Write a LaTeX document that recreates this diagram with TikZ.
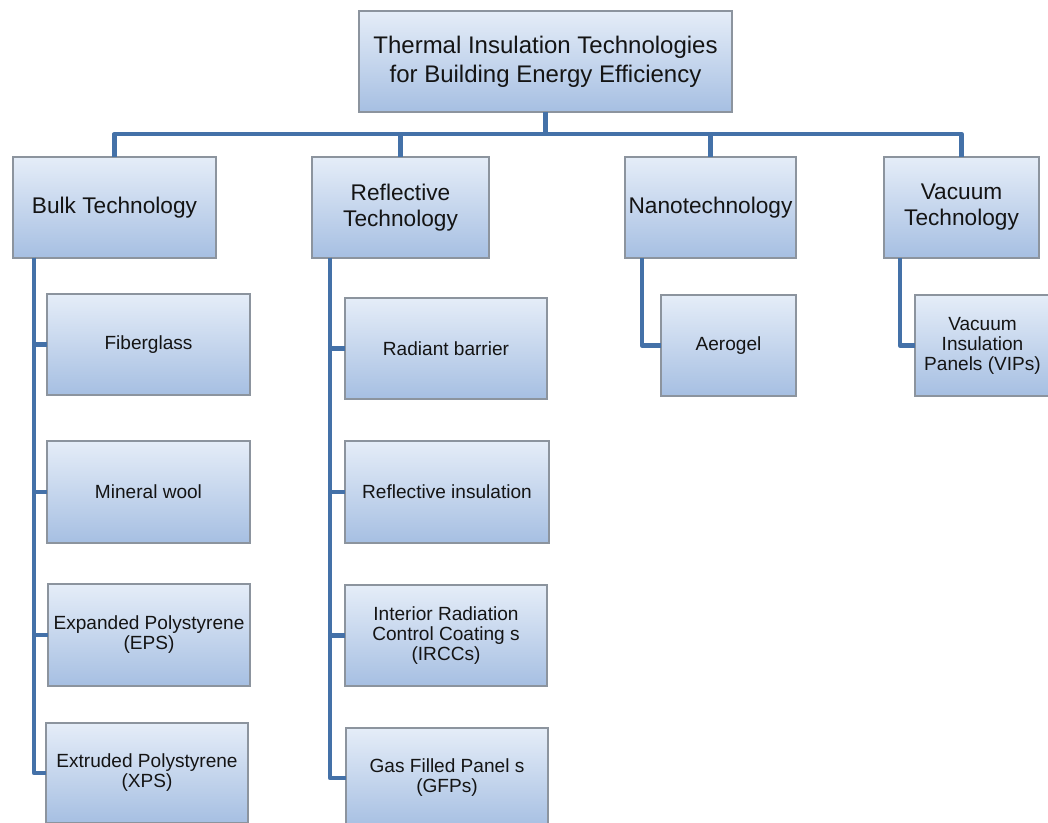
\documentclass[tikz,border=0pt]{standalone}
\usepackage{fontspec}
\setmainfont{Liberation Sans}
\usetikzlibrary{calc}
\definecolor{boxtop}{RGB}{229,237,248}
\definecolor{boxbot}{RGB}{166,191,226}
\definecolor{boxline}{RGB}{140,148,158}
\definecolor{conncol}{RGB}{68,113,168}
\definecolor{txt}{RGB}{20,20,20}
\tikzset{
  box/.style={draw=boxline, line width=0.8pt, top color=boxtop, bottom color=boxbot,
    inner sep=0pt, outer sep=0pt, align=center, text=txt, anchor=north west},
  wh/.style 2 args={minimum width=#1*0.75pt, minimum height=#2*0.75pt},
  titlebox/.style={box, font=\fontsize{18}{21.5}\selectfont},
  catbox/.style={box, font=\fontsize{17}{19.5}\selectfont},
  itembox/.style={box, font=\fontsize{14.3}{15}\selectfont},
  conn/.style={draw=conncol, line width=3.6pt, line join=round}
}
\begin{document}
\begin{tikzpicture}[x=0.75pt,y=-0.75pt]
\useasboundingbox (0,0) rectangle (1048,823);
\clip (0,0) rectangle (1048,823);
\coordinate (bus) at (0,134);

\node[titlebox, wh={373}{101}] (top) at (359,11) {Thermal Insulation Technologies\\for Building Energy Efficiency};
\node[catbox, wh={203}{101}] (bulk) at (13,157) {Bulk Technology};
\node[catbox, wh={177}{101}] (refl) at (312,157) {Reflective\\Technology};
\node[catbox, wh={171}{101}] (nano) at (625,157) {Nanotechnology};
\node[catbox, wh={155}{101}] (vac) at (884,157) {Vacuum\\Technology};

\node[itembox, wh={203}{101}] (fiber) at (47,294) {Fiberglass};
\node[itembox, wh={203}{102}] (mineral) at (47,441) {Mineral wool};
\node[itembox, wh={202}{102}] (eps) at (48,584) {Expanded Polystyrene\\(EPS)};
\node[itembox, wh={202}{100}] (xps) at (46,723) {Extruded Polystyrene\\(XPS)};

\node[itembox, wh={202}{101}] (radiant) at (345,298) {Radiant barrier};
\node[itembox, wh={204}{102}] (reflins) at (345,441) {Reflective insulation};
\node[itembox, wh={202}{101}] (ircc) at (345,585) {Interior Radiation\\Control Coating s\\(IRCCs)};
\node[itembox, wh={202}{100}] (gfp) at (346,728) {Gas Filled Panel s\\(GFPs)};

\node[itembox, wh={135}{101}] (aero) at (661,295) {Aerogel};
\node[itembox, wh={135}{101}] (vip) at (915,295) {Vacuum\\Insulation\\Panels (VIPs)};

\draw[conn] (top.south) -- (top.south |- bus) -| (bulk.north);
\draw[conn] (top.south |- bus) -| (refl.north);
\draw[conn] (top.south |- bus) -| (nano.north);
\draw[conn] (top.south |- bus) -| (vac.north);

\coordinate (bt) at ($(bulk.south west)+(21,0)$);
\draw[conn] (bt) |- (fiber.west);
\draw[conn] (bt) |- (mineral.west);
\draw[conn] (bt) |- (eps.west);
\draw[conn] (bt) |- (xps.west);

\coordinate (rt) at ($(refl.south west)+(18,0)$);
\draw[conn] (rt) |- (radiant.west);
\draw[conn] (rt) |- (reflins.west);
\draw[conn] (rt) |- (ircc.west);
\draw[conn] (rt) |- (gfp.west);

\coordinate (nt) at ($(nano.south west)+(17,0)$);
\draw[conn] (nt) |- (aero.west);
\coordinate (vt) at ($(vac.south west)+(16,0)$);
\draw[conn] (vt) |- (vip.west);
\end{tikzpicture}
\end{document}
